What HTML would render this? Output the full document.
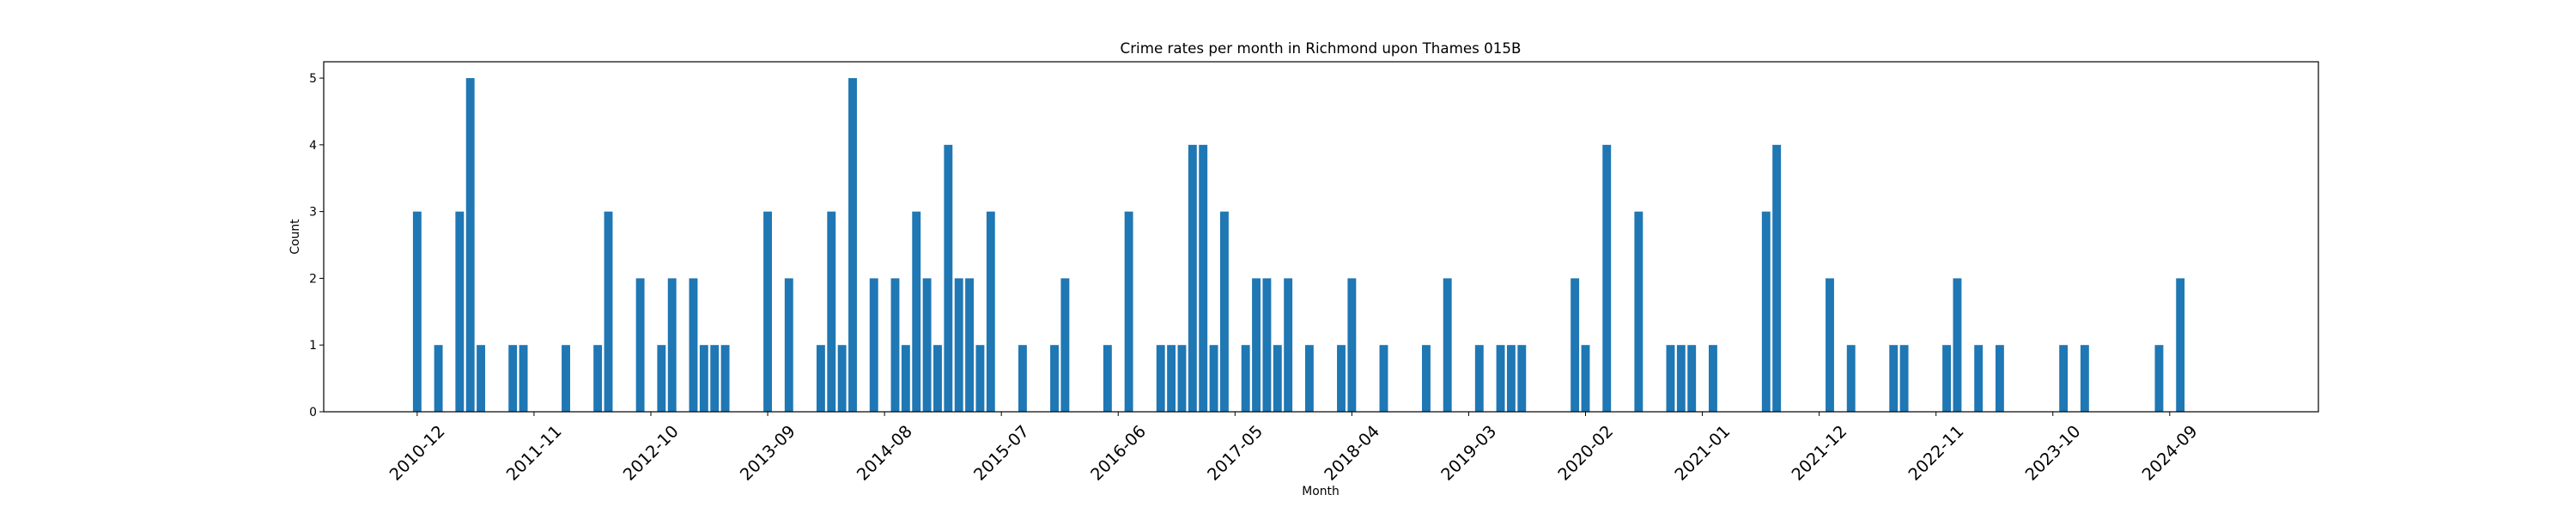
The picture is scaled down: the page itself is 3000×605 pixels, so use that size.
<!DOCTYPE html>
<html><head><meta charset="utf-8"><style>
html,body{margin:0;padding:0;background:#fff;}
svg text{font-family:"DejaVu Sans","Liberation Sans",sans-serif;fill:#000;}
</style></head><body>
<svg id="chart" width="3000" height="600" viewBox="0 0 3000 600" xmlns="http://www.w3.org/2000/svg">
<rect width="3000" height="600" fill="#fff"/>
<text x="1538" y="62" font-size="16.7" text-anchor="middle">Crime rates per month in Richmond upon Thames 015B</text>
<g id="bars"></g>
<g id="axes"></g>
<text x="1538" y="577" font-size="13.9" text-anchor="middle">Month</text>
<text x="0" y="0" font-size="13.9" text-anchor="middle" transform="translate(348,276) rotate(-90)">Count</text>
</svg>
<script>
// month index from 2010-12
const monthIdx = [0,2,4,5,6,9,10,14,17,18,21,23,24,26,27,28,29,33,35,38,39,40,41,43,45,46,47,48,49,50,51,52,53,54,57,60,61,65,67,70,71,72,73,74,75,76,78,79,80,81,82,84,87,88,91,95,97,100,102,103,104,109,110,112,115,118,119,120,122,127,128,133,135,139,140,144,145,147,149,155,157,164,166];
const counts   = [3,1,3,5,1,1,1,1,1,3,2,1,2,2,1,1,1,3,2,1,3,1,5,2,2,1,3,2,1,4,2,2,1,3,1,1,2,1,3,1,1,1,4,4,1,3,1,2,2,1,2,1,1,2,1,1,2,1,1,1,1,2,1,4,3,1,1,1,1,3,4,2,1,1,1,1,2,1,1,1,1,1,2];
const tickIdx = [0,11,22,33,44,55,66,77,88,99,110,121,132,143,154,165];
const tickLabels = ["2010-12","2011-11","2012-10","2013-09","2014-08","2015-07","2016-06","2017-05","2018-04","2019-03","2020-02","2021-01","2021-12","2022-11","2023-10","2024-09"];
const yTicks = [0,1,2,3,4,5];

const NS="http://www.w3.org/2000/svg";
const L=377,R=2700,T=72,B=480;
const xMin=-8.8,xMax=179,yMax=5.245;
const xs=v=>L+(v-xMin)/(xMax-xMin)*(R-L);
const ys=v=>B-v/yMax*(B-T);
function mk(tag,attrs,parent){const e=document.createElementNS(NS,tag);for(const k in attrs)e.setAttribute(k,attrs[k]);parent.appendChild(e);return e;}
const bars=document.getElementById('bars'),axes=document.getElementById('axes');
const bw=(xs(0.8)-xs(0));
monthIdx.forEach((m,i)=>{
  const r=mk('rect',{x:xs(m)-bw/2,y:ys(counts[i]),width:bw,height:ys(0)-ys(counts[i]),fill:'#1f77b4'},bars);
  
  
});
const frame=mk('rect',{x:L,y:T,width:R-L,height:B-T,fill:'none',stroke:'#000','stroke-width':1.2},axes);


yTicks.forEach(v=>{
  const y=ys(v);
  mk('line',{x1:L-5,x2:L,y1:y,y2:y,stroke:'#000','stroke-width':1},axes);
  const t=mk('text',{x:L-8,y:y+5,'font-size':13.9,'text-anchor':'end'},axes);
  t.textContent=v;
  
  
});
tickIdx.forEach((m,i)=>{
  const x=xs(m);
  mk('line',{x1:x,x2:x,y1:B,y2:B+5,stroke:'#000','stroke-width':1},axes);
  const t=mk('text',{x:0,y:0,'font-size':19.4,'text-anchor':'middle','dominant-baseline':'central',transform:`translate(${x},528) rotate(-45)`},axes);
  t.textContent=tickLabels[i];
  
  
});
</script>
</body></html>
